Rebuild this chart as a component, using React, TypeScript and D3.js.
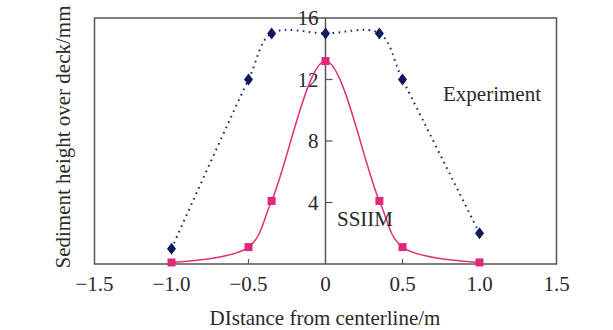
import React, { useEffect, useRef } from 'react';
import * as d3 from 'd3';

// distance from centerline (m)
const expX = [-1.0, -0.5, -0.35, 0, 0.35, 0.5, 1.0];
const expY = [1.0, 12, 15, 15, 15, 12, 2];
const ssiimX = [-1.0, -0.5, -0.35, 0, 0.35, 0.5, 1.0];
const ssiimY = [0.1, 1.1, 4.1, 13.2, 4.1, 1.1, 0.1];

const xTicks = [-1.5, -1.0, -0.5, 0, 0.5, 1.0, 1.5];
const yTicks = [4, 8, 12, 16];

const W = 613;
const H = 330;
const FONT = '"Liberation Serif", "Times New Roman", serif';

export default function App() {
  const svgRef = useRef<SVGSVGElement>(null);

  useEffect(() => {
    if (!svgRef.current) return;
    const svg = d3.select(svgRef.current);
    svg.selectAll('*').remove();

    const x = d3.scaleLinear().domain([-1.5, 1.5]).range([94.5, 556.5]);
    const y = d3.scaleLinear().domain([0, 16]).range([264, 18]);
    const axisColor = '#555';
    const textColor = '#2a2a2a';

    // frame
    svg.append('rect')
      .attr('x', x(-1.5)).attr('y', y(16))
      .attr('width', x(1.5) - x(-1.5)).attr('height', y(0) - y(16))
      .attr('fill', 'none').attr('stroke', axisColor).attr('stroke-width', 1.5);

    // y axis at centerline
    svg.append('line')
      .attr('x1', x(0)).attr('x2', x(0)).attr('y1', y(0)).attr('y2', y(16))
      .attr('stroke', axisColor).attr('stroke-width', 1.5);

    // x ticks (inward) + labels
    svg.selectAll('.xt')
      .data(xTicks.filter(t => Math.abs(t) !== 1.5 && t !== 0))
      .enter().append('line')
      .attr('x1', d => x(d)).attr('x2', d => x(d))
      .attr('y1', y(0)).attr('y2', y(0) - 5)
      .attr('stroke', axisColor).attr('stroke-width', 1.2);

    svg.selectAll('.xl')
      .data(xTicks)
      .enter().append('text')
      .attr('x', d => x(d)).attr('y', 291)
      .attr('text-anchor', 'middle')
      .attr('font-family', FONT).attr('font-size', 21).attr('fill', textColor)
      .text(d => d === 0 ? '0' : (d < 0 ? '\u2212' : '') + Math.abs(d).toFixed(1));

    // y ticks (inward to right of centerline) + labels
    svg.selectAll('.yt')
      .data(yTicks.filter(t => t !== 16))
      .enter().append('line')
      .attr('x1', x(0)).attr('x2', x(0) + 7)
      .attr('y1', d => y(d)).attr('y2', d => y(d))
      .attr('stroke', axisColor).attr('stroke-width', 1.2);

    svg.selectAll('.yl')
      .data(yTicks)
      .enter().append('text')
      .attr('x', x(0) - 7).attr('y', d => y(d) + 7)
      .attr('text-anchor', 'end')
      .attr('font-family', FONT).attr('font-size', 21).attr('fill', textColor)
      .text(d => String(d));

    // experiment: dotted smooth line with diamonds
    const expData = expX.map((v, i) => [v, expY[i]] as [number, number]);
    const ssData = ssiimX.map((v, i) => [v, ssiimY[i]] as [number, number]);
    const line = d3.line<[number, number]>()
      .x(d => x(d[0])).y(d => y(d[1]))
      .curve(d3.curveCatmullRom.alpha(0.5));

    svg.append('path')
      .attr('d', line(expData))
      .attr('fill', 'none').attr('stroke', '#1c2370')
      .attr('stroke-width', 2).attr('stroke-dasharray', '1.6 4.4');

    svg.append('path')
      .attr('d', line(ssData))
      .attr('fill', 'none').attr('stroke', '#e0307f').attr('stroke-width', 1.5);

    svg.selectAll('.dia')
      .data(expData)
      .enter().append('path')
      .attr('transform', d => `translate(${x(d[0])},${y(d[1])})`)
      .attr('d', 'M0,-6 L4.5,0 L0,6 L-4.5,0 Z')
      .attr('fill', '#101a5e');

    svg.selectAll('.sq')
      .data(ssData)
      .enter().append('rect')
      .attr('x', d => x(d[0]) - 4).attr('y', d => y(d[1]) - 4)
      .attr('width', 8).attr('height', 8)
      .attr('fill', '#e0287a');

    // annotations
    svg.append('text')
      .attr('x', 443).attr('y', 101)
      .attr('font-family', FONT).attr('font-size', 21).attr('fill', textColor)
      .text('Experiment');

    svg.append('text')
      .attr('x', 337).attr('y', 226)
      .attr('font-family', FONT).attr('font-size', 21).attr('fill', textColor)
      .text('SSIIM');

    // axis titles
    svg.append('text')
      .attr('x', 325).attr('y', 325)
      .attr('text-anchor', 'middle')
      .attr('font-family', FONT).attr('font-size', 21).attr('fill', textColor)
      .text('DIstance from centerline/m');

    svg.append('text')
      .attr('transform', 'translate(70,137) rotate(-90)')
      .attr('text-anchor', 'middle')
      .attr('font-family', FONT).attr('font-size', 21).attr('fill', textColor)
      .text('Sediment height over deck/mm');
  }, []);

  return (
    <svg
      ref={svgRef}
      width={W}
      height={H}
      style={{ position: 'absolute', left: 0, top: 0, background: '#fff' }}
    />
  );
}
